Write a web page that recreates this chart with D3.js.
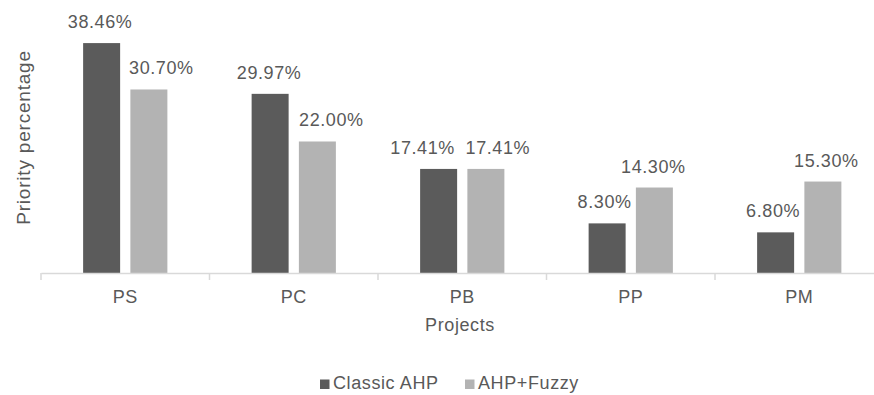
<!DOCTYPE html>
<html>
<head>
<meta charset="utf-8">
<script src="https://cdn.jsdelivr.net/npm/d3@7"></script>
<style>
  html, body { margin: 0; padding: 0; background: #fff; }
  svg { display: block; font-family: "Liberation Sans", Arial, Helvetica, sans-serif; }
</style>
</head>
<body>
<svg id="chart" width="874" height="395"></svg>
<script>
// ---- data ----
const categories = ["PS", "PC", "PB", "PP", "PM"];
const seriesNames = ["Classic AHP", "AHP+Fuzzy"];
const classicAHP = [38.46, 29.97, 17.41, 8.30, 6.80];
const ahpFuzzy = [30.70, 22.00, 17.41, 14.30, 15.30];
const classicLabels = ["38.46%", "29.97%", "17.41%", "8.30%", "6.80%"];
const fuzzyLabels = ["30.70%", "22.00%", "17.41%", "14.30%", "15.30%"];

// ---- layout / style (not data) ----
const colors = ["#5b5b5b", "#b3b3b3"];
const textColor = "#595959";
// manual label nudges (px) as placed in the original chart
const labelNudge = [
  [-1.5, 12.5],
  [-1, 14],
  [-16, 12],
  [-2.5, -1],
  [-2.5, 3.5]
];

const svg = d3.select("#chart");
const baseY = 273;
const x0 = d3.scaleBand()
  .domain(categories)
  .range([41, 41 + 168.5 * categories.length])
  .paddingInner(0.5)
  .paddingOuter(0.25);
const x1 = d3.scaleBand()
  .domain(seriesNames)
  .range([0, x0.bandwidth()])
  .paddingInner(0.217)
  .paddingOuter(0);
const y = d3.scaleLinear().domain([0, 45]).range([baseY, 4]);

const rows = categories.map((c, i) => ({
  cat: c,
  vals: [
    { s: seriesNames[0], v: classicAHP[i], label: classicLabels[i], dx: labelNudge[i][0], k: 0 },
    { s: seriesNames[1], v: ahpFuzzy[i], label: fuzzyLabels[i], dx: labelNudge[i][1], k: 1 }
  ]
}));

// bars
const g = svg.append("g");
const groups = g.selectAll("g.cat").data(rows).join("g")
  .attr("class", "cat")
  .attr("transform", d => `translate(${x0(d.cat)},0)`);
groups.selectAll("rect").data(d => d.vals).join("rect")
  .attr("x", d => x1(d.s))
  .attr("width", x1.bandwidth())
  .attr("y", d => y(d.v))
  .attr("height", d => baseY - y(d.v))
  .attr("fill", d => colors[d.k]);
groups.selectAll("text.val").data(d => d.vals).join("text")
  .attr("class", "val")
  .attr("x", d => x1(d.s) + x1.bandwidth() / 2 + d.dx)
  .attr("y", d => y(d.v) - 15)
  .attr("text-anchor", "middle")
  .attr("font-size", 18)
  .attr("letter-spacing", 0.6)
  .attr("fill", textColor)
  .text(d => d.label);

// x axis
const axis = d3.axisBottom(x0).tickSize(0).tickPadding(17);
const ax = svg.append("g").attr("transform", `translate(0,${baseY})`).call(axis);
ax.select(".domain").attr("stroke", "#d9d9d9").attr("stroke-width", 1.5);
ax.selectAll(".tick text")
  .attr("font-size", 18)
  .attr("letter-spacing", 0.6)
  .attr("fill", textColor)
  .attr("font-family", "Liberation Sans, Arial, sans-serif");
// separator ticks between categories
const bounds = d3.range(categories.length + 1).map(i => x0.step() * i + x0.range()[0]);
svg.append("g").selectAll("line").data(bounds).join("line")
  .attr("x1", d => d).attr("x2", d => d)
  .attr("y1", baseY).attr("y2", baseY + 7)
  .attr("stroke", "#d9d9d9").attr("stroke-width", 1.5);

// axis titles
svg.append("text")
  .attr("x", 460).attr("y", 331)
  .attr("text-anchor", "middle")
  .attr("font-size", 18)
  .attr("letter-spacing", 0.6)
  .attr("fill", textColor)
  .text("Projects");
svg.append("text")
  .attr("transform", "translate(30,137.5) rotate(-90)")
  .attr("text-anchor", "middle")
  .attr("font-size", 19)
  .attr("letter-spacing", 0.8)
  .attr("fill", textColor)
  .text("Priority percentage");

// legend
const legend = svg.append("g");
const legendItems = [
  { name: seriesNames[0], x: 320, color: colors[0] },
  { name: seriesNames[1], x: 465, color: colors[1] }
];
legendItems.forEach(it => {
  legend.append("rect").attr("x", it.x).attr("y", 379.5).attr("width", 9.5).attr("height", 9.5).attr("fill", it.color);
  legend.append("text").attr("x", it.x + 13).attr("y", 389)
    .attr("font-size", 18).attr("letter-spacing", 0.6).attr("fill", textColor).text(it.name);
});
</script>
</body>
</html>
